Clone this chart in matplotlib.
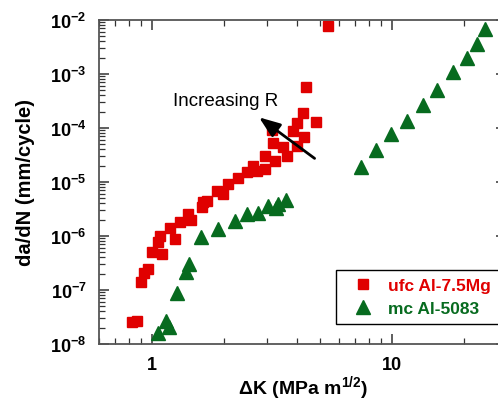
import numpy as np
import matplotlib
matplotlib.use("Agg")
import matplotlib.pyplot as plt
from matplotlib.ticker import LogLocator, FuncFormatter, NullFormatter

plt.rcParams['font.family'] = ['Liberation Sans', 'DejaVu Sans']
plt.rcParams['font.weight'] = 'bold'
plt.rcParams['axes.labelweight'] = 'bold'
plt.rcParams['mathtext.fontset'] = 'custom'
plt.rcParams['mathtext.rm'] = 'Liberation Sans'
plt.rcParams['mathtext.bf'] = 'Liberation Sans:bold'

# ufc Al-7.5Mg
dk_ufc = [0.823, 0.864, 0.897, 0.926, 0.956, 0.997, 1.062, 1.101, 1.080, 1.189,
          1.247, 1.308, 1.416, 1.454, 1.611, 1.636, 1.695, 1.861, 1.982, 2.080,
          2.289, 2.480, 2.643, 2.730, 2.957, 2.957, 3.154, 3.184, 3.254, 3.524,
          3.642, 3.857, 4.000, 4.009, 4.246, 4.298, 4.367, 4.823, 5.397]
dadn_ufc = [2.52e-8, 2.70e-8, 1.43e-7, 2.06e-7, 2.45e-7, 4.99e-7, 7.74e-7, 4.64e-7, 1.0e-6, 1.41e-6,
            8.8e-7, 1.79e-6, 2.55e-6, 1.98e-6, 3.40e-6, 4.21e-6, 4.51e-6, 6.81e-6, 6.0e-6, 9.18e-6,
            1.19e-5, 1.51e-5, 1.94e-5, 1.62e-5, 3.07e-5, 1.74e-5, 9.18e-5, 5.35e-5, 2.50e-5, 4.39e-5,
            2.97e-5, 8.61e-5, 1.23e-4, 4.64e-5, 1.87e-4, 6.90e-5, 5.82e-4, 1.28e-4, 7.84e-3]

# mc Al-5083
dk_mc = [1.062, 1.144, 1.177, 1.265, 1.379, 1.426, 1.593, 1.884, 2.206, 2.480,
         2.752, 3.052, 3.360, 3.286, 3.617, 7.405, 8.551, 9.90, 11.51, 13.47,
         15.36, 18.01, 20.47, 22.54, 24.41]
dadn_mc = [1.60e-8, 2.61e-8, 2.06e-8, 8.80e-8, 2.20e-7, 3.03e-7, 9.46e-7, 1.35e-6, 1.87e-6, 2.55e-6,
           2.67e-6, 3.64e-6, 3.92e-6, 3.30e-6, 4.70e-6, 1.87e-5, 3.96e-5, 7.74e-5, 1.36e-4, 2.67e-4,
           4.99e-4, 1.07e-3, 1.95e-3, 3.60e-3, 6.81e-3]

red = '#e00000'
green = '#076b1f'

fig = plt.figure(figsize=(4.98, 4.02), dpi=100)
ax = fig.add_axes([0.1988, 0.1418, 0.818, 0.806])

ax.plot(dk_ufc, dadn_ufc, linestyle='None', marker='s', ms=7.8, color=red,
        mec=red, label='ufc Al-7.5Mg')
ax.plot(dk_mc, dadn_mc, linestyle='None', marker='^', ms=10.5, color=green,
        mec=green, label='mc Al-5083')

ax.set_xscale('log')
ax.set_yscale('log')
ax.set_xlim(0.6, 30)
ax.set_ylim(1e-8, 1e-2)

ax.yaxis.set_major_locator(LogLocator(base=10, numticks=20))
ax.yaxis.set_minor_locator(LogLocator(base=10, subs=np.arange(2, 10), numticks=20))
ax.yaxis.set_major_formatter(FuncFormatter(lambda v, p: r'$\mathbf{10^{%d}}$' % round(np.log10(v))))
ax.yaxis.set_minor_formatter(NullFormatter())
ax.xaxis.set_major_formatter(FuncFormatter(lambda v, p: '%g' % v))
ax.xaxis.set_minor_formatter(NullFormatter())

ax.tick_params(which='both', direction='in', top=True, right=True, labelsize=13, color='#333')
ax.tick_params(which='major', length=7, width=1.1)
ax.tick_params(which='minor', length=4, width=0.9)
ax.tick_params(axis='y', pad=9)
ax.tick_params(axis='x', pad=9)
for s in ax.spines.values():
    s.set_color('#555')
    s.set_linewidth(1.3)

ax.set_xlabel(r'$\mathbf{\Delta}$K (MPa m$^{\mathbf{1/2}}$)', fontsize=14, labelpad=0)
ax.set_ylabel('da/dN (mm/cycle)', fontsize=14.5, labelpad=11)

ax.annotate('', xy=(2.73, 1.69e-4), xytext=(4.86, 2.55e-5),
            arrowprops=dict(arrowstyle='-|>,head_length=0.8,head_width=0.3',
                            color='k', lw=2, mutation_scale=16))
ax.text(2.02, 3.2e-4, 'Increasing R', fontsize=13.5, fontweight='normal',
        ha='center', va='center')

leg = ax.legend(loc='upper left', bbox_to_anchor=(336 / 498, 1 - 271 / 402),
                bbox_transform=fig.transFigure, borderaxespad=0, numpoints=1,
                fontsize=12.5, labelcolor='markerfacecolor', fancybox=False,
                framealpha=1, edgecolor='k', borderpad=0.45, labelspacing=0.45,
                handlelength=2.2, handletextpad=0.35)
leg.get_frame().set_linewidth(1.0)

fig.savefig('out.png', dpi=100)
